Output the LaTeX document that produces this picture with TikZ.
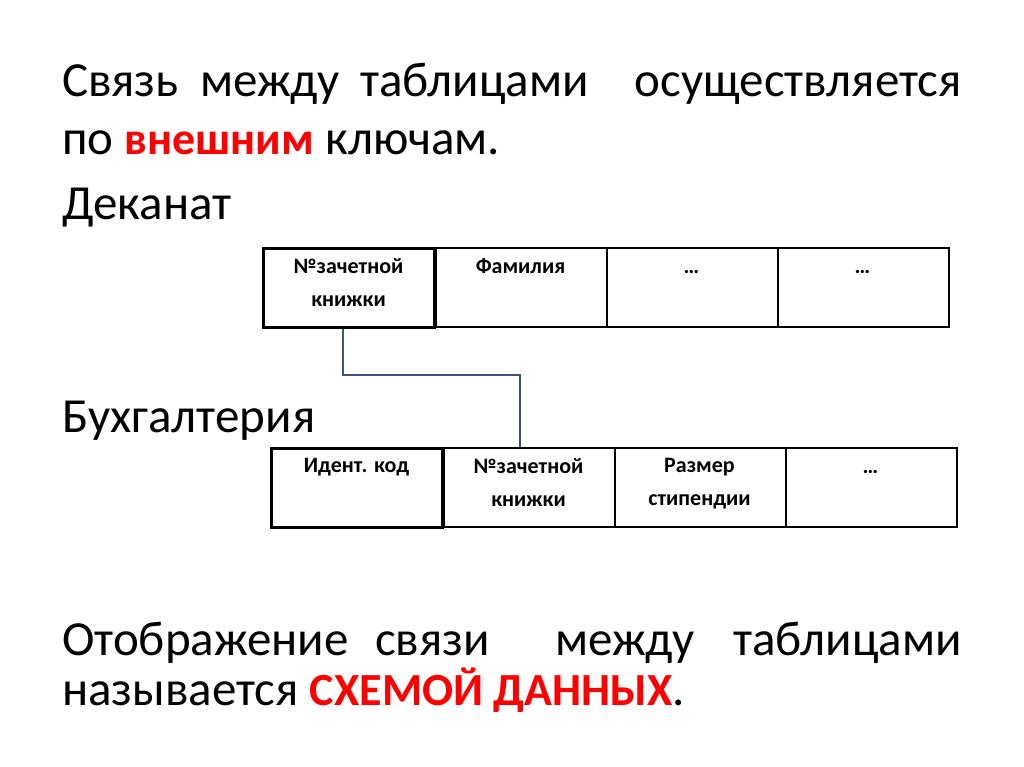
\documentclass[tikz,border=0pt]{standalone}
\usepackage{fontspec}
\setmainfont{Carlito}
\newcommand{\redb}[1]{\textcolor{red}{\bfseries\fontsize{46}{54}\selectfont #1}}
\begin{document}
\begin{tikzpicture}[x=1pt,y=-1pt,
  big/.style={font=\fontsize{49}{54}\selectfont, inner sep=0pt, anchor=base west},
  cell/.style={draw=black, line width=1.8pt, minimum width=171pt, minimum height=79pt, anchor=north west, inner sep=0pt},
  key/.style={cell, line width=3.2pt},
  ctext/.style={font=\bfseries\fontsize{22}{33}\selectfont, align=center, anchor=north, inner sep=0pt},
  link/.style={draw={rgb,255:red,60;green,85;blue,120}, line width=2.2pt}]
\useasboundingbox (0,0) rectangle (1024,767);
% heading
\node[big] (w1) at (62,97) {Связь};
\node[big] (w2) at (200,97) {между};
\node[big] (w3) at (360,97) {таблицами};
\node[big, anchor=base east] (w4) at (962,97) {осуществляется};
\node[big] (w5) at (62,155) {по \redb{внешним} ключам.};
\node[big] (dek) at (62,220) {Деканат};
\node[big] (bux) at (62,432) {Бухгалтерия};
% table 1
\node[cell] (a2) at (435,247) {};
\node[cell] (a3) at (606,247) {};
\node[cell] (a4) at (777,247) {};
\node[key] (a1) at (262,247) {};
\node[ctext] at (348.5,258) {№зачетной\\книжки};
\node[ctext] at (520.5,258) {Фамилия};
\node[ctext] at (691.5,258) {\vphantom{Ф}…};
\node[ctext] at (862.5,258) {\vphantom{Ф}…};
% table 2
\node[cell] (b2) at (443,447) {};
\node[cell] (b3) at (614,447) {};
\node[cell] (b4) at (785,447) {};
\node[key] (b1) at (270,447) {};
\node[ctext] at (356.5,458) {Идент. код};
\node[ctext] at (528.5,458) {№зачетной\\книжки};
\node[ctext] at (699.5,458) {Размер\\стипендии};
\node[ctext] at (870.5,458) {\vphantom{Ф}…};
% connector
\coordinate (c1) at (343,375);
\coordinate (c2) at (520,375);
\draw[link] (a1.south -| c1) -- (c1) -- (c2) -- (b2.north -| c2);
% bottom
\node[big] (x1) at (62,655) {Отображение};
\node[big] (x2) at (375,655) {связи};
\node[big] (x3) at (555,655) {между};
\node[big, anchor=base east] (x4) at (962,655) {таблицами};
\node[big] (x5) at (62,705) {называется \redb{СХЕМОЙ ДАННЫХ}.};
\end{tikzpicture}
\end{document}
